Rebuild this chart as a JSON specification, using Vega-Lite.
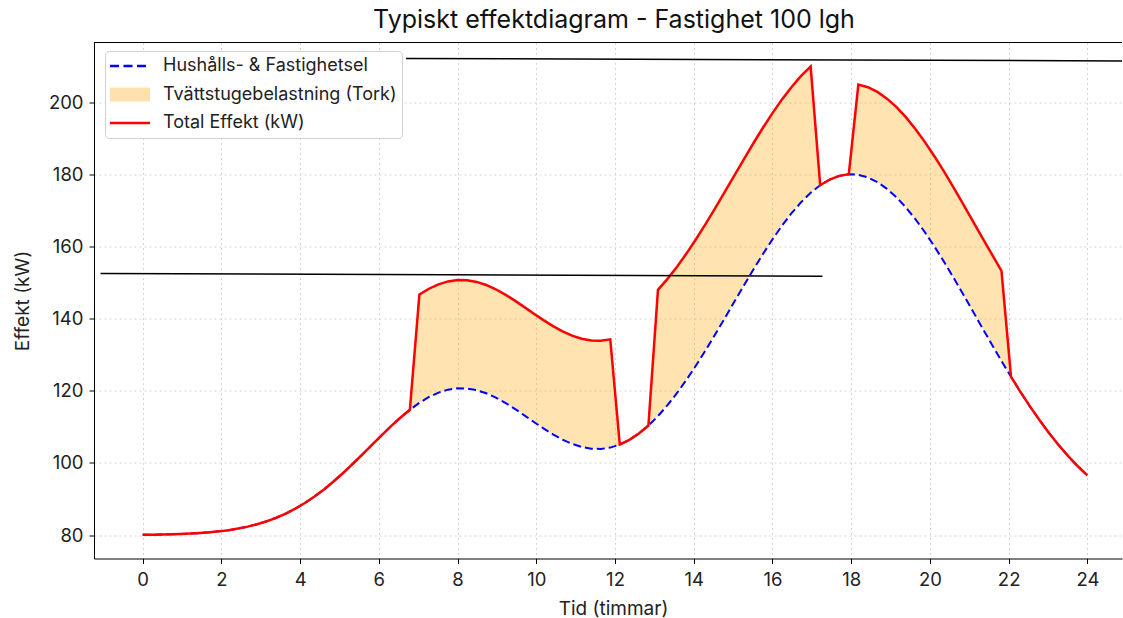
{
  "$schema": "https://vega.github.io/schema/vega-lite/v6.json",
  "width": 1028,
  "height": 516,
  "autosize": {"type": "none"},
  "padding": {"left": 94, "top": 42.5, "right": 1, "bottom": 59.5},
  "background": "white",
  "title": {
    "text": "Typiskt effektdiagram - Fastighet 100 lgh",
    "fontSize": 25,
    "font": "Inter",
    "fontWeight": "normal",
    "color": "#111111",
    "offset": 9,
    "anchor": "middle",
    "dx": 6
  },
  "config": {
    "font": "Inter",
    "view": {"stroke": null},
    "axis": {
      "domainColor": "#000000",
      "domainWidth": 1,
      "tickColor": "#000000",
      "tickSize": 5,
      "tickWidth": 1,
      "labelFontSize": 18.5,
      "labelColor": "#222222",
      "labelFont": "Inter",
      "titleFont": "Inter",
      "titleFontSize": 19,
      "titleFontWeight": "normal",
      "titleColor": "#222222",
      "gridColor": "#d4d4d4",
      "gridDash": [2, 3],
      "gridWidth": 1
    },
    "legend": {
      "labelFont": "Inter",
      "labelFontSize": 18,
      "labelColor": "#222222",
      "labelLimit": 0
    }
  },
  "datasets": {
    "curve": [
      {"x": 0.0, "base": 80.07, "total": 80.07},
      {"x": 0.242, "base": 80.1, "total": 80.1},
      {"x": 0.485, "base": 80.14, "total": 80.14},
      {"x": 0.727, "base": 80.2, "total": 80.2},
      {"x": 0.97, "base": 80.29, "total": 80.29},
      {"x": 1.212, "base": 80.4, "total": 80.4},
      {"x": 1.455, "base": 80.55, "total": 80.55},
      {"x": 1.697, "base": 80.75, "total": 80.75},
      {"x": 1.939, "base": 81.02, "total": 81.02},
      {"x": 2.182, "base": 81.36, "total": 81.36},
      {"x": 2.424, "base": 81.79, "total": 81.79},
      {"x": 2.667, "base": 82.33, "total": 82.33},
      {"x": 2.909, "base": 82.99, "total": 82.99},
      {"x": 3.152, "base": 83.81, "total": 83.81},
      {"x": 3.394, "base": 84.79, "total": 84.79},
      {"x": 3.636, "base": 85.96, "total": 85.96},
      {"x": 3.879, "base": 87.33, "total": 87.33},
      {"x": 4.121, "base": 88.89, "total": 88.89},
      {"x": 4.364, "base": 90.67, "total": 90.67},
      {"x": 4.606, "base": 92.65, "total": 92.65},
      {"x": 4.848, "base": 94.84, "total": 94.84},
      {"x": 5.091, "base": 97.18, "total": 97.18},
      {"x": 5.333, "base": 99.68, "total": 99.68},
      {"x": 5.576, "base": 102.26, "total": 102.26},
      {"x": 5.818, "base": 104.91, "total": 104.91},
      {"x": 6.061, "base": 107.54, "total": 107.54},
      {"x": 6.303, "base": 110.1, "total": 110.1},
      {"x": 6.545, "base": 112.51, "total": 112.51},
      {"x": 6.788, "base": 114.72, "total": 114.72},
      {"x": 7.03, "base": 116.66, "total": 146.66},
      {"x": 7.273, "base": 118.26, "total": 148.26},
      {"x": 7.515, "base": 119.48, "total": 149.48},
      {"x": 7.758, "base": 120.29, "total": 150.29},
      {"x": 8.0, "base": 120.67, "total": 150.67},
      {"x": 8.242, "base": 120.62, "total": 150.62},
      {"x": 8.485, "base": 120.15, "total": 150.15},
      {"x": 8.727, "base": 119.3, "total": 149.3},
      {"x": 8.97, "base": 118.11, "total": 148.11},
      {"x": 9.212, "base": 116.64, "total": 146.64},
      {"x": 9.455, "base": 114.97, "total": 144.97},
      {"x": 9.697, "base": 113.17, "total": 143.17},
      {"x": 9.939, "base": 111.34, "total": 141.34},
      {"x": 10.182, "base": 109.56, "total": 139.56},
      {"x": 10.424, "base": 107.89, "total": 137.89},
      {"x": 10.667, "base": 106.43, "total": 136.43},
      {"x": 10.909, "base": 105.26, "total": 135.26},
      {"x": 11.152, "base": 104.41, "total": 134.41},
      {"x": 11.394, "base": 103.92, "total": 133.92},
      {"x": 11.636, "base": 103.86, "total": 133.86},
      {"x": 11.879, "base": 104.24, "total": 134.24},
      {"x": 12.121, "base": 105.08, "total": 105.08},
      {"x": 12.364, "base": 106.39, "total": 106.39},
      {"x": 12.606, "base": 108.13, "total": 108.13},
      {"x": 12.848, "base": 110.34, "total": 110.34},
      {"x": 13.091, "base": 112.96, "total": 147.96},
      {"x": 13.333, "base": 115.99, "total": 150.99},
      {"x": 13.576, "base": 119.37, "total": 154.37},
      {"x": 13.818, "base": 123.07, "total": 158.07},
      {"x": 14.061, "base": 127.04, "total": 162.04},
      {"x": 14.303, "base": 131.24, "total": 166.24},
      {"x": 14.545, "base": 135.61, "total": 170.61},
      {"x": 14.788, "base": 140.1, "total": 175.1},
      {"x": 15.03, "base": 144.63, "total": 179.63},
      {"x": 15.273, "base": 149.14, "total": 184.14},
      {"x": 15.515, "base": 153.58, "total": 188.58},
      {"x": 15.758, "base": 157.87, "total": 192.87},
      {"x": 16.0, "base": 161.94, "total": 196.94},
      {"x": 16.242, "base": 165.73, "total": 200.73},
      {"x": 16.485, "base": 169.19, "total": 204.19},
      {"x": 16.727, "base": 172.24, "total": 207.24},
      {"x": 16.97, "base": 174.84, "total": 209.84},
      {"x": 17.212, "base": 176.95, "total": 176.95},
      {"x": 17.455, "base": 178.52, "total": 178.52},
      {"x": 17.697, "base": 179.54, "total": 179.54},
      {"x": 17.939, "base": 179.98, "total": 179.98},
      {"x": 18.182, "base": 179.83, "total": 204.83},
      {"x": 18.424, "base": 179.1, "total": 204.1},
      {"x": 18.667, "base": 177.8, "total": 202.8},
      {"x": 18.909, "base": 175.95, "total": 200.95},
      {"x": 19.152, "base": 173.58, "total": 198.58},
      {"x": 19.394, "base": 170.74, "total": 195.74},
      {"x": 19.636, "base": 167.47, "total": 192.47},
      {"x": 19.879, "base": 163.82, "total": 188.82},
      {"x": 20.121, "base": 159.85, "total": 184.85},
      {"x": 20.364, "base": 155.63, "total": 180.63},
      {"x": 20.606, "base": 151.21, "total": 176.21},
      {"x": 20.848, "base": 146.65, "total": 171.65},
      {"x": 21.091, "base": 142.02, "total": 167.02},
      {"x": 21.333, "base": 137.38, "total": 162.38},
      {"x": 21.576, "base": 132.77, "total": 157.77},
      {"x": 21.818, "base": 128.24, "total": 153.24},
      {"x": 22.061, "base": 123.85, "total": 123.85},
      {"x": 22.303, "base": 119.62, "total": 119.62},
      {"x": 22.545, "base": 115.59, "total": 115.59},
      {"x": 22.788, "base": 111.79, "total": 111.79},
      {"x": 23.03, "base": 108.22, "total": 108.22},
      {"x": 23.273, "base": 104.91, "total": 104.91},
      {"x": 23.515, "base": 101.85, "total": 101.85},
      {"x": 23.758, "base": 99.06, "total": 99.06},
      {"x": 24.0, "base": 96.53, "total": 96.53}
    ],
    "refs": [
      {"x": -1.07, "y": 152.5, "x2": 17.27, "y2": 151.7},
      {"x": 6.69, "y": 212.1, "x2": 24.88, "y2": 211.4}
    ],
    "series": [
      {"series": "Hushålls- & Fastighetsel"},
      {"series": "Tvättstugebelastning (Tork)"},
      {"series": "Total Effekt (kW)"}
    ]
  },
  "encoding": {
    "x": {
      "field": "x",
      "type": "quantitative",
      "scale": {"domain": [-1.237, 24.88], "nice": false, "zero": false},
      "axis": {
        "values": [0, 2, 4, 6, 8, 10, 12, 14, 16, 18, 20, 22, 24],
        "title": "Tid (timmar)",
        "grid": true,
        "labelPadding": 7,
        "titlePadding": 10,
        "titleX": 519
      }
    }
  },
  "layer": [
    {
      "data": {"name": "curve"},
      "mark": {"type": "area", "color": "#ffa500", "opacity": 0.3},
      "encoding": {
        "y": {
          "field": "base",
          "type": "quantitative",
          "scale": {"domain": [73.5, 216.5], "nice": false, "zero": false},
          "axis": {
            "values": [80, 100, 120, 140, 160, 180, 200],
            "title": "Effekt (kW)",
            "grid": true,
            "labelPadding": 6,
            "titlePadding": 16
          }
        },
        "y2": {"field": "total"}
      }
    },
    {
      "data": {"name": "curve"},
      "mark": {"type": "line", "color": "#0000ff", "strokeWidth": 2, "strokeDash": [8, 4]},
      "encoding": {
        "y": {"field": "base", "type": "quantitative"}
      }
    },
    {
      "data": {"name": "curve"},
      "mark": {"type": "line", "color": "#ff0000", "strokeWidth": 2.5},
      "encoding": {
        "y": {"field": "total", "type": "quantitative"}
      }
    },
    {
      "data": {"name": "refs"},
      "mark": {"type": "rule", "color": "#000000", "strokeWidth": 1.5},
      "encoding": {
        "y": {"field": "y", "type": "quantitative"},
        "x2": {"field": "x2"},
        "y2": {"field": "y2"}
      }
    },
    {
      "data": {"values": [{}]},
      "mark": {"type": "rule", "color": "#000000", "strokeWidth": 1},
      "encoding": {
        "x": null,
        "y": {"datum": 216.5, "type": "quantitative"}
      }
    },
    {
      "data": {"name": "series"},
      "mark": {"type": "line"},
      "encoding": {
        "y": {"field": "base", "type": "quantitative"},
        "color": {
          "field": "series",
          "type": "nominal",
          "scale": {
            "domain": ["Hushålls- & Fastighetsel", "Tvättstugebelastning (Tork)", "Total Effekt (kW)"],
            "range": ["#0000ff", "#ffe1ad", "#ff0000"]
          },
          "legend": {
            "title": null,
            "orient": "none",
            "legendX": 11,
            "legendY": 8.5,
            "padding": 5,
            "symbolType": "M-2.5,0L2.5,0",
            "symbolSize": 256,
            "symbolOffset": 5,
            "labelOffset": 18,
            "clipHeight": 20,
            "rowPadding": 8.5,
            "symbolOpacity": 1,
            "strokeColor": "#d0d0d0",
            "fillColor": "#ffffff",
            "cornerRadius": 4
          }
        },
        "strokeDash": {
          "field": "series",
          "type": "nominal",
          "scale": {
            "domain": ["Hushålls- & Fastighetsel", "Tvättstugebelastning (Tork)", "Total Effekt (kW)"],
            "range": [[9, 4.5], [1, 0], [1, 0]]
          },
          "legend": {"title": null, "orient": "none", "legendX": 11, "legendY": 8.5}
        },
        "strokeWidth": {
          "field": "series",
          "type": "nominal",
          "scale": {
            "type": "ordinal",
            "domain": ["Hushålls- & Fastighetsel", "Tvättstugebelastning (Tork)", "Total Effekt (kW)"],
            "range": [2.5, 14, 2.5]
          },
          "legend": {"title": null, "orient": "none", "legendX": 11, "legendY": 8.5}
        }
      }
    }
  ]
}
